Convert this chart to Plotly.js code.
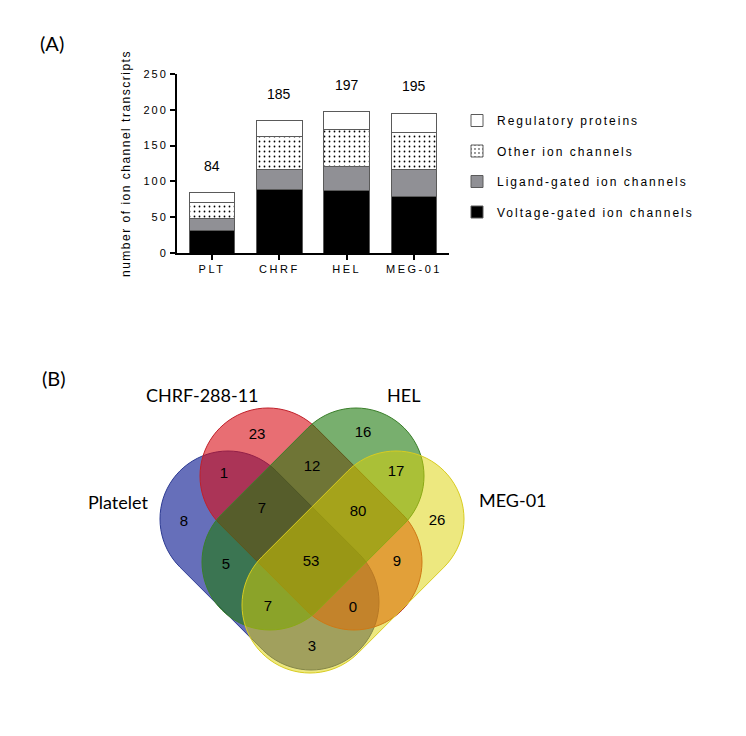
<!DOCTYPE html>
<html>
<head>
<meta charset="utf-8">
<script src="https://cdn.plot.ly/plotly-3.0.1.min.js"></script>
<style>
  body { margin: 0; background: #fff; }
  #chart { width: 746px; height: 736px; }
  .legendtext { letter-spacing: 2px; }
  g.xtick > text { letter-spacing: 2.5px; }
  g.ytick > text { letter-spacing: 2px; }
  text.ytitle { letter-spacing: 1.5px; }
</style>
</head>
<body>
<div id="chart"></div>
<script>
// ---------- Panel A data ----------
const cellLines = ['PLT', 'CHRF', 'HEL', 'MEG-01'];
const voltageGated = [31, 89, 87, 79];
const ligandGated = [17, 27, 34, 37];
const otherChannels = [23, 47, 51, 52];
const regulatoryProteins = [13, 22, 25, 27];
const totals = [84, 185, 197, 195];
const yTickVals = [0, 50, 100, 150, 200, 250];

// ---------- Panel B data ----------
const vennSetNames = ['Platelet', 'CHRF-288-11', 'HEL', 'MEG-01'];
const vennRegions = ['Platelet only', 'CHRF only', 'HEL only', 'MEG-01 only',
  'Platelet∩CHRF', 'CHRF∩HEL', 'Platelet∩HEL', 'HEL∩MEG-01', 'CHRF∩MEG-01', 'Platelet∩MEG-01',
  'Platelet∩CHRF∩HEL', 'CHRF∩HEL∩MEG-01', 'Platelet∩HEL∩MEG-01', 'Platelet∩CHRF∩MEG-01', 'all four'];
const vennCounts = [8, 23, 16, 26, 1, 12, 5, 17, 9, 3, 7, 80, 7, 0, 53];

// ---------- Layout geometry (pixel space of panel B) ----------
const regionLabelPos = [
  [184, 522], [257, 435], [363, 433], [437, 521],
  [224, 474], [312, 467], [226, 565], [396, 472], [397, 562], [312, 647],
  [262, 509], [358, 512], [268, 607], [353, 608], [311, 562]
];
const setLabelPos = [[118, 502], [202, 395], [403, 395], [513, 500]];
const setShapes = [ // capsule: end centres, radius, fill, border
  { c1: [228, 519], c2: [311, 602], r: 68, fill: 'rgba(0,15,140,0.6)', line: '#2c3a92' },
  { c1: [268, 476], c2: [354, 562], r: 68, fill: 'rgba(217,13,22,0.6)', line: '#c0202a' },
  { c1: [356, 476], c2: [270, 562], r: 68, fill: 'rgba(30,122,13,0.6)', line: '#3a7f2a' },
  { c1: [396, 519], c2: [310, 605], r: 68, fill: 'rgba(220,210,0,0.5)', line: '#d8cc20' }
];

function capsulePath(c1, c2, r) {
  const ang = Math.atan2(c2[1] - c1[1], c2[0] - c1[0]);
  const N = 40;
  const pts = [];
  for (let i = 0; i <= N; i++) {
    const a = ang - Math.PI / 2 + Math.PI * i / N;
    pts.push([c2[0] + r * Math.cos(a), c2[1] + r * Math.sin(a)]);
  }
  for (let i = 0; i <= N; i++) {
    const a = ang + Math.PI / 2 + Math.PI * i / N;
    pts.push([c1[0] + r * Math.cos(a), c1[1] + r * Math.sin(a)]);
  }
  return 'M' + pts.map(p => p[0].toFixed(2) + ',' + p[1].toFixed(2)).join('L') + 'Z';
}

const barFont = 'Liberation Sans, Arial, sans-serif';
const outline = { color: '#5a5a5a', width: 1 };

const traces = [
  { type: 'bar', name: 'Voltage-gated ion channels', x: cellLines, y: voltageGated,
    marker: { color: '#000000', line: outline }, legendgroup: 'v', legendrank: 4, hoverinfo: 'y+name' },
  { type: 'bar', name: 'Ligand-gated ion channels', x: cellLines, y: ligandGated,
    marker: { color: '#909095', line: outline }, legendgroup: 'l', legendrank: 3, hoverinfo: 'y+name' },
  { type: 'bar', name: 'Other ion channels', x: cellLines, y: otherChannels,
    marker: { color: '#ffffff', line: outline,
      pattern: { shape: '.', fgcolor: '#000000', bgcolor: '#ffffff', size: 5, solidity: 0.1 } },
    legendgroup: 'o', legendrank: 2, hoverinfo: 'y+name' },
  { type: 'bar', name: 'Regulatory proteins', x: cellLines, y: regulatoryProteins,
    marker: { color: '#ffffff', line: outline }, legendgroup: 'r', legendrank: 1, hoverinfo: 'y+name' },
  { type: 'scatter', mode: 'text', xaxis: 'x2', yaxis: 'y2', showlegend: false,
    x: regionLabelPos.map(p => p[0]), y: regionLabelPos.map(p => p[1]),
    text: vennCounts.map(String), customdata: vennRegions,
    hovertemplate: '%{customdata}: %{text}<extra></extra>',
    textfont: { family: barFont, size: 15, color: '#000' } }
];

const annotations = [];
cellLines.forEach((c, i) => {
  annotations.push({ xref: 'x', yref: 'y', x: c, y: totals[i], text: String(totals[i]),
    showarrow: false, yshift: 27, yanchor: 'middle',
    font: { family: barFont, size: 14, color: '#000' } });
});
vennSetNames.forEach((n, i) => {
  annotations.push({ xref: 'x2', yref: 'y2', x: setLabelPos[i][0], y: setLabelPos[i][1], text: n,
    showarrow: false, xanchor: 'center', yanchor: 'middle',
    font: { family: 'Lato, Open Sans, sans-serif', size: 18, color: '#000' } });
});
annotations.push({ xref: 'paper', yref: 'paper', x: 38 / 746, y: 1 - 43 / 736, text: '(A)',
  showarrow: false, xanchor: 'left', yanchor: 'middle',
  font: { family: 'Lato, sans-serif', size: 20, color: '#000' } });
annotations.push({ xref: 'paper', yref: 'paper', x: 40 / 746, y: 1 - 378 / 736, text: '(B)',
  showarrow: false, xanchor: 'left', yanchor: 'middle',
  font: { family: 'Lato, sans-serif', size: 20, color: '#000' } });

const shapes = setShapes.map(s => ({
  type: 'path', xref: 'x2', yref: 'y2', layer: 'below',
  path: capsulePath(s.c1, s.c2, s.r), fillcolor: s.fill, line: { color: s.line, width: 1 }
}));

const layout = {
  width: 746, height: 736,
  margin: { l: 0, r: 0, t: 0, b: 0 },
  paper_bgcolor: '#ffffff', plot_bgcolor: 'rgba(0,0,0,0)',
  barmode: 'stack', bargap: 0.32,
  font: { family: barFont, color: '#000' },
  showlegend: true,
  legend: {
    x: 457 / 746, y: 1 - 106 / 736, xanchor: 'left', yanchor: 'top',
    traceorder: 'grouped', tracegroupgap: 11.5,
    font: { family: barFont, size: 12, color: '#000' },
    bgcolor: 'rgba(0,0,0,0)'
  },
  xaxis: {
    domain: [177 / 746, 449 / 746], anchor: 'y',
    range: [-0.52, 3.52], type: 'category',
    showline: true, linecolor: '#000', linewidth: 2,
    ticks: 'outside', ticklen: 5, tickwidth: 1.5, tickcolor: '#000',
    tickfont: { family: barFont, size: 11 }, showgrid: false, zeroline: false,
    fixedrange: true
  },
  yaxis: {
    domain: [1 - 253 / 736, 1 - 74 / 736], anchor: 'x',
    range: [0, 250], tickvals: yTickVals,
    showline: true, linecolor: '#000', linewidth: 2,
    ticks: 'outside', ticklen: 5, tickwidth: 1.5, tickcolor: '#000',
    tickfont: { family: barFont, size: 11 }, showgrid: false, zeroline: false,
    title: { text: 'number of ion channel transcripts', font: { family: barFont, size: 12 }, standoff: 10 },
    fixedrange: true
  },
  xaxis2: { domain: [0, 1], anchor: 'y2', range: [0, 746], visible: false, fixedrange: true },
  yaxis2: { domain: [0, 1], anchor: 'x2', range: [736, 0], visible: false, fixedrange: true },
  shapes: shapes,
  annotations: annotations
};

Plotly.newPlot('chart', traces, layout, { displayModeBar: false, staticPlot: false });
</script>
</body>
</html>
